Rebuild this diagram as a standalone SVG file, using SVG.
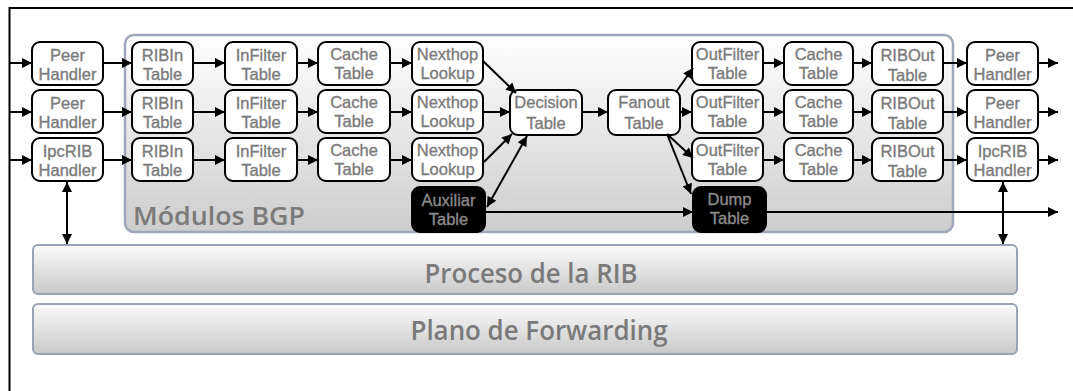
<svg xmlns="http://www.w3.org/2000/svg" width="1073" height="391" viewBox="0 0 1073 391">
  <defs>
    <linearGradient id="gModule" x1="0" y1="0" x2="0" y2="1">
      <stop offset="0" stop-color="#ffffff"/>
      <stop offset="1" stop-color="#cdcdcd"/>
    </linearGradient>
    <linearGradient id="gBar" x1="0" y1="0" x2="0" y2="1">
      <stop offset="0" stop-color="#fbfbfb"/>
      <stop offset="1" stop-color="#c9c9c9"/>
    </linearGradient>
    <marker id="arrow" viewBox="0 0 10 10" refX="10" refY="5" markerWidth="6.5" markerHeight="5" markerUnits="strokeWidth" orient="auto-start-reverse">
      <path d="M0,0 L10,5 L0,10 z" fill="#000"/>
    </marker>
    <style>
      .node rect { fill: #ffffff; stroke: #000; stroke-width: 2; }
      .dark rect { fill: #000; stroke: #000; stroke-width: 2; }
      .lbl { font-family: "Liberation Sans", Arial, sans-serif; font-size: 16.5px; fill: #7b7b7b; stroke: #7b7b7b; stroke-width: 0.35; text-anchor: middle; }
      .dark .lbl { fill: #8a8a8a; stroke: #8a8a8a; }
      .big { font-family: "Open Sans", "DejaVu Sans", sans-serif; font-weight: 600; fill: #7a7a7a; }
      .bar { fill: url(#gBar); stroke: #9aa3b3; stroke-width: 2; }
      #connectors line { stroke: #000; stroke-width: 2; fill: none; }
    </style>
  </defs>

  <rect width="1073" height="391" fill="#ffffff"/>

  <!-- page frame: top and left rules -->
  <path d="M1073,8 H9.5 V391" fill="none" stroke="#000" stroke-width="2"/>

  <!-- BGP module container -->
  <g id="modulos-bgp">
    <rect x="125" y="35" width="828" height="197" rx="9" fill="url(#gModule)" stroke="#9ea7b8" stroke-width="2.5"/>
    <text class="big" x="133" y="225" font-size="25" textLength="172" lengthAdjust="spacingAndGlyphs">Módulos BGP</text>
  </g>

  <!-- lower layers -->
  <g id="proceso-rib">
    <rect class="bar" x="33" y="245" width="984" height="49" rx="5"/>
    <text class="big" x="531" y="283" font-size="27" text-anchor="middle" textLength="213" lengthAdjust="spacingAndGlyphs">Proceso de la RIB</text>
  </g>
  <g id="plano-forwarding">
    <rect class="bar" x="33" y="304" width="984" height="50" rx="5"/>
    <text class="big" x="539" y="340" font-size="27" text-anchor="middle" textLength="257" lengthAdjust="spacingAndGlyphs">Plano de Forwarding</text>
  </g>

  <!-- input handlers -->
  <g id="peer-handler-in-1" class="node"><rect x="32" y="42" width="71" height="43" rx="8"/><text class="lbl" x="67.5" y="61">Peer</text><text class="lbl" x="67.5" y="80">Handler</text></g>
  <g id="peer-handler-in-2" class="node"><rect x="32" y="90" width="71" height="43" rx="8"/><text class="lbl" x="67.5" y="109">Peer</text><text class="lbl" x="67.5" y="128">Handler</text></g>
  <g id="ipcrib-handler-in" class="node"><rect x="32" y="138" width="71" height="43" rx="8"/><text class="lbl" x="67.5" y="157">IpcRIB</text><text class="lbl" x="67.5" y="176">Handler</text></g>

  <!-- RIBIn tables -->
  <g id="ribin-1" class="node"><rect x="132" y="42" width="61" height="43" rx="8"/><text class="lbl" x="162.5" y="61">RIBIn</text><text class="lbl" x="162.5" y="80">Table</text></g>
  <g id="ribin-2" class="node"><rect x="132" y="90" width="61" height="43" rx="8"/><text class="lbl" x="162.5" y="109">RIBIn</text><text class="lbl" x="162.5" y="128">Table</text></g>
  <g id="ribin-3" class="node"><rect x="132" y="138" width="61" height="43" rx="8"/><text class="lbl" x="162.5" y="157">RIBIn</text><text class="lbl" x="162.5" y="176">Table</text></g>

  <!-- InFilter tables -->
  <g id="infilter-1" class="node"><rect x="225" y="42" width="72" height="43" rx="8"/><text class="lbl" x="261" y="61">InFilter</text><text class="lbl" x="261" y="80">Table</text></g>
  <g id="infilter-2" class="node"><rect x="225" y="90" width="72" height="43" rx="8"/><text class="lbl" x="261" y="109">InFilter</text><text class="lbl" x="261" y="128">Table</text></g>
  <g id="infilter-3" class="node"><rect x="225" y="138" width="72" height="43" rx="8"/><text class="lbl" x="261" y="157">InFilter</text><text class="lbl" x="261" y="176">Table</text></g>

  <!-- inbound Cache tables -->
  <g id="cache-in-1" class="node"><rect x="318" y="42" width="72" height="43" rx="8"/><text class="lbl" x="354" y="60">Cache</text><text class="lbl" x="354" y="79">Table</text></g>
  <g id="cache-in-2" class="node"><rect x="318" y="90" width="72" height="43" rx="8"/><text class="lbl" x="354" y="108">Cache</text><text class="lbl" x="354" y="127">Table</text></g>
  <g id="cache-in-3" class="node"><rect x="318" y="138" width="72" height="43" rx="8"/><text class="lbl" x="354" y="156">Cache</text><text class="lbl" x="354" y="175">Table</text></g>

  <!-- Nexthop lookups -->
  <g id="nexthop-1" class="node"><rect x="412" y="42" width="71" height="43" rx="8"/><text class="lbl" x="447.5" y="60">Nexthop</text><text class="lbl" x="447.5" y="79">Lookup</text></g>
  <g id="nexthop-2" class="node"><rect x="412" y="90" width="71" height="43" rx="8"/><text class="lbl" x="447.5" y="108">Nexthop</text><text class="lbl" x="447.5" y="127">Lookup</text></g>
  <g id="nexthop-3" class="node"><rect x="412" y="138" width="71" height="43" rx="8"/><text class="lbl" x="447.5" y="156">Nexthop</text><text class="lbl" x="447.5" y="175">Lookup</text></g>

  <!-- central tables -->
  <g id="decision" class="node"><rect x="510" y="90" width="72" height="45" rx="8"/><text class="lbl" x="546" y="108">Decision</text><text class="lbl" x="546" y="129">Table</text></g>
  <g id="fanout" class="node"><rect x="608" y="90" width="72" height="45" rx="8"/><text class="lbl" x="644" y="108">Fanout</text><text class="lbl" x="644" y="129">Table</text></g>
  <g id="auxiliar" class="dark"><rect x="412" y="187" width="73" height="45" rx="8"/><text class="lbl" x="448.5" y="206">Auxiliar</text><text class="lbl" x="448.5" y="225">Table</text></g>
  <g id="dump" class="dark"><rect x="693" y="187" width="73" height="45" rx="8"/><text class="lbl" x="729.5" y="205">Dump</text><text class="lbl" x="729.5" y="224">Table</text></g>

  <!-- OutFilter tables -->
  <g id="outfilter-1" class="node"><rect x="692" y="42" width="71" height="43" rx="8"/><text class="lbl" x="727.5" y="60">OutFilter</text><text class="lbl" x="727.5" y="79">Table</text></g>
  <g id="outfilter-2" class="node"><rect x="692" y="90" width="71" height="43" rx="8"/><text class="lbl" x="727.5" y="108">OutFilter</text><text class="lbl" x="727.5" y="127">Table</text></g>
  <g id="outfilter-3" class="node"><rect x="692" y="138" width="71" height="43" rx="8"/><text class="lbl" x="727.5" y="156">OutFilter</text><text class="lbl" x="727.5" y="175">Table</text></g>

  <!-- outbound Cache tables -->
  <g id="cache-out-1" class="node"><rect x="784" y="42" width="69" height="43" rx="8"/><text class="lbl" x="818.5" y="60">Cache</text><text class="lbl" x="818.5" y="79">Table</text></g>
  <g id="cache-out-2" class="node"><rect x="784" y="90" width="69" height="43" rx="8"/><text class="lbl" x="818.5" y="108">Cache</text><text class="lbl" x="818.5" y="127">Table</text></g>
  <g id="cache-out-3" class="node"><rect x="784" y="138" width="69" height="43" rx="8"/><text class="lbl" x="818.5" y="156">Cache</text><text class="lbl" x="818.5" y="175">Table</text></g>

  <!-- RIBOut tables -->
  <g id="ribout-1" class="node"><rect x="872" y="42" width="71" height="43" rx="8"/><text class="lbl" x="907.5" y="61">RIBOut</text><text class="lbl" x="907.5" y="81">Table</text></g>
  <g id="ribout-2" class="node"><rect x="872" y="90" width="71" height="43" rx="8"/><text class="lbl" x="907.5" y="109">RIBOut</text><text class="lbl" x="907.5" y="129">Table</text></g>
  <g id="ribout-3" class="node"><rect x="872" y="138" width="71" height="43" rx="8"/><text class="lbl" x="907.5" y="157">RIBOut</text><text class="lbl" x="907.5" y="177">Table</text></g>

  <!-- output handlers -->
  <g id="peer-handler-out-1" class="node"><rect x="967" y="42" width="71" height="43" rx="8"/><text class="lbl" x="1002.5" y="61">Peer</text><text class="lbl" x="1002.5" y="80">Handler</text></g>
  <g id="peer-handler-out-2" class="node"><rect x="967" y="90" width="71" height="43" rx="8"/><text class="lbl" x="1002.5" y="109">Peer</text><text class="lbl" x="1002.5" y="128">Handler</text></g>
  <g id="ipcrib-handler-out" class="node"><rect x="967" y="138" width="71" height="43" rx="8"/><text class="lbl" x="1002.5" y="157">IpcRIB</text><text class="lbl" x="1002.5" y="176">Handler</text></g>

  <!-- connectors -->
  <g id="connectors" marker-end="url(#arrow)">
    <!-- incoming feeds -->
    <line x1="10" y1="63" x2="32" y2="63"/>
    <line x1="10" y1="112" x2="32" y2="112"/>
    <line x1="10" y1="160" x2="32" y2="160"/>
    <!-- handler -> RIBIn -->
    <line x1="103" y1="63" x2="132" y2="63"/>
    <line x1="103" y1="112" x2="132" y2="112"/>
    <line x1="103" y1="160" x2="132" y2="160"/>
    <!-- RIBIn -> InFilter -->
    <line x1="193" y1="63" x2="225" y2="63"/>
    <line x1="193" y1="112" x2="225" y2="112"/>
    <line x1="193" y1="160" x2="225" y2="160"/>
    <!-- InFilter -> Cache -->
    <line x1="297" y1="63" x2="318" y2="63"/>
    <line x1="297" y1="112" x2="318" y2="112"/>
    <line x1="297" y1="160" x2="318" y2="160"/>
    <!-- Cache -> Nexthop -->
    <line x1="390" y1="63" x2="412" y2="63"/>
    <line x1="390" y1="112" x2="412" y2="112"/>
    <line x1="390" y1="160" x2="412" y2="160"/>
    <!-- Nexthop -> Decision -->
    <line x1="483" y1="61" x2="516" y2="93"/>
    <line x1="483" y1="112" x2="510" y2="112"/>
    <line x1="484" y1="162" x2="512" y2="134"/>
    <!-- Auxiliar <-> Decision -->
    <line x1="487" y1="207" x2="527" y2="136" marker-start="url(#arrow)"/>
    <!-- Decision -> Fanout -->
    <line x1="582" y1="112" x2="608" y2="112"/>
    <!-- Fanout -> OutFilter / Dump -->
    <line x1="676" y1="92" x2="693" y2="68"/>
    <line x1="680" y1="112" x2="692" y2="112"/>
    <line x1="667" y1="134" x2="693" y2="158"/>
    <line x1="667" y1="134" x2="691" y2="194"/>
    <!-- Auxiliar -> Dump, Dump -> out -->
    <line x1="485" y1="212" x2="693" y2="212"/>
    <line x1="766" y1="212" x2="1058" y2="212"/>
    <!-- OutFilter -> Cache -->
    <line x1="763" y1="63" x2="784" y2="63"/>
    <line x1="763" y1="112" x2="784" y2="112"/>
    <line x1="763" y1="160" x2="784" y2="160"/>
    <!-- Cache -> RIBOut -->
    <line x1="853" y1="63" x2="872" y2="63"/>
    <line x1="853" y1="112" x2="872" y2="112"/>
    <line x1="853" y1="160" x2="872" y2="160"/>
    <!-- RIBOut -> handler -->
    <line x1="943" y1="63" x2="967" y2="63"/>
    <line x1="943" y1="112" x2="967" y2="112"/>
    <line x1="943" y1="160" x2="967" y2="160"/>
    <!-- outgoing feeds -->
    <line x1="1038" y1="63" x2="1058" y2="63"/>
    <line x1="1038" y1="112" x2="1058" y2="112"/>
    <line x1="1038" y1="160" x2="1058" y2="160"/>
    <!-- IpcRIB handlers <-> RIB process -->
    <line x1="67" y1="182" x2="67" y2="244" marker-start="url(#arrow)"/>
    <line x1="1003" y1="182" x2="1003" y2="244" marker-start="url(#arrow)"/>
  </g>
</svg>
